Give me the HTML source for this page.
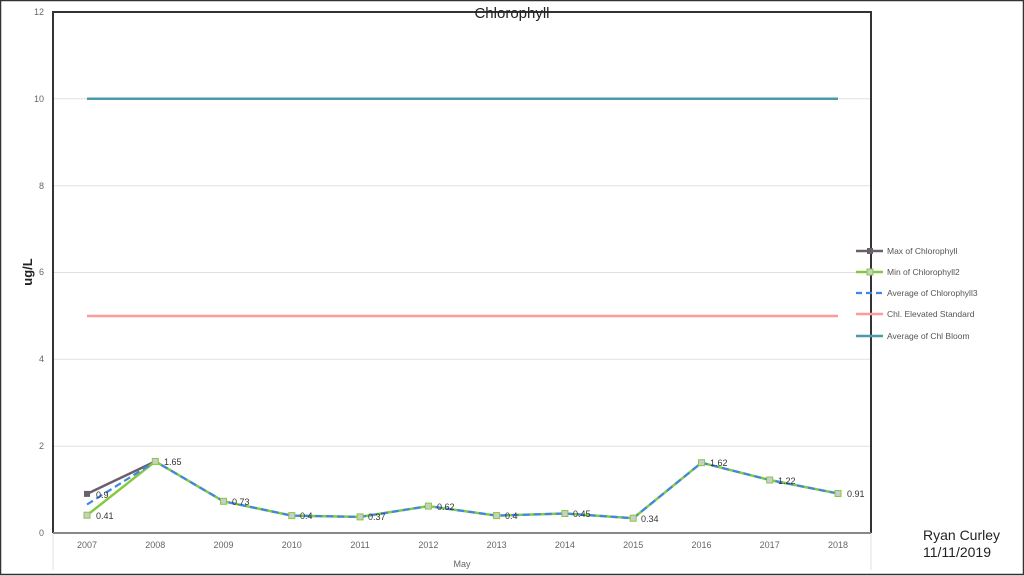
<!DOCTYPE html>
<html><head><meta charset="utf-8"><style>
html,body{margin:0;padding:0;background:#fff}
svg{display:block;font-family:"Liberation Sans",sans-serif}
</style></head><body>
<svg width="1024" height="576" viewBox="0 0 1024 576">
<rect x="0.5" y="0.5" width="1023" height="574" fill="#fff" stroke="#333" stroke-width="1.5"/>
<g stroke="#e0e0e0" stroke-width="1">
<line x1="53" x2="871" y1="446.2" y2="446.2"/>
<line x1="53" x2="871" y1="359.3" y2="359.3"/>
<line x1="53" x2="871" y1="272.5" y2="272.5"/>
<line x1="53" x2="871" y1="185.7" y2="185.7"/>
<line x1="53" x2="871" y1="98.8" y2="98.8"/>
<line x1="53" y1="533" x2="53" y2="570"/>
<line x1="871" y1="533" x2="871" y2="570"/>
</g>
<polyline points="53,533 53,12 871,12 871,533" fill="none" stroke="#333" stroke-width="2"/>
<line x1="53" y1="533" x2="871" y2="533" stroke="#888" stroke-width="2"/>
<g font-size="9" fill="#666" text-anchor="end">
<text x="44" y="536">0</text><text x="44" y="449">2</text><text x="44" y="362">4</text>
<text x="44" y="275">6</text><text x="44" y="189">8</text><text x="44" y="102">10</text><text x="44" y="15">12</text>
</g>
<g font-size="9" fill="#666" text-anchor="middle">
<text x="87" y="548">2007</text><text x="155.3" y="548">2008</text><text x="223.5" y="548">2009</text>
<text x="291.8" y="548">2010</text><text x="360.1" y="548">2011</text><text x="428.4" y="548">2012</text>
<text x="496.6" y="548">2013</text><text x="564.9" y="548">2014</text><text x="633.2" y="548">2015</text>
<text x="701.5" y="548">2016</text><text x="769.7" y="548">2017</text><text x="838" y="548">2018</text>
<text x="462" y="567">May</text>
</g>
<text x="512" y="18" font-size="15" text-anchor="middle" fill="#222">Chlorophyll</text>
<text x="32" y="272" font-size="13" font-weight="bold" text-anchor="middle" transform="rotate(-90 32 272)" fill="#222">ug/L</text>
<line x1="87" y1="98.8" x2="838" y2="98.8" stroke="#4a9aa8" stroke-width="2.5"/>
<line x1="87" y1="316" x2="838" y2="316" stroke="#ff9a9a" stroke-width="2.5"/>
<polyline fill="none" stroke="#6b5f6b" stroke-width="2.5" points="87,493.9 155.3,461.4"/>
<polyline fill="none" stroke="#86c93e" stroke-width="2.5" points="87,515.2 155.3,461.4 223.5,501.3 291.8,515.6 360.1,516.9 428.4,506.1 496.6,515.6 564.9,513.5 633.2,518.2 701.5,462.7 769.7,480 838,493.5"/>
<polyline fill="none" stroke="#3f86e8" stroke-width="2.2" stroke-dasharray="7,4" points="87,504.5 155.3,461.4 223.5,501.3 291.8,515.6 360.1,516.9 428.4,506.1 496.6,515.6 564.9,513.5 633.2,518.2 701.5,462.7 769.7,480 838,493.5"/>
<rect x="84" y="490.9" width="6" height="6" fill="#6b5f6b"/>
<g fill="#ccc" stroke="#86c93e" stroke-width="1">
<rect x="84" y="512.2" width="6" height="6"/><rect x="152.3" y="458.4" width="6" height="6"/>
<rect x="220.5" y="498.3" width="6" height="6"/><rect x="288.8" y="512.6" width="6" height="6"/>
<rect x="357.1" y="513.9" width="6" height="6"/><rect x="425.4" y="503.1" width="6" height="6"/>
<rect x="493.6" y="512.6" width="6" height="6"/><rect x="561.9" y="510.5" width="6" height="6"/>
<rect x="630.2" y="515.2" width="6" height="6"/><rect x="698.5" y="459.7" width="6" height="6"/>
<rect x="766.7" y="477" width="6" height="6"/><rect x="835" y="490.5" width="6" height="6"/>
</g>
<g font-size="9" fill="#333">
<text x="96" y="498">0.9</text><text x="96" y="519">0.41</text><text x="164" y="465">1.65</text>
<text x="232" y="505">0.73</text><text x="300" y="519">0.4</text><text x="368" y="520">0.37</text>
<text x="437" y="510">0.62</text><text x="505" y="519">0.4</text><text x="573" y="517">0.45</text>
<text x="641" y="522">0.34</text><text x="710" y="466">1.62</text><text x="778" y="484">1.22</text>
<text x="847" y="497">0.91</text>
</g>
<g font-size="8.5" fill="#555">
<line x1="856" y1="251" x2="883" y2="251" stroke="#6b5f6b" stroke-width="2.5"/><rect x="867" y="248" width="6" height="6" fill="#6b5f6b"/>
<text x="887" y="254">Max of Chlorophyll</text>
<line x1="856" y1="272" x2="883" y2="272" stroke="#86c93e" stroke-width="2.5"/><rect x="867" y="269" width="6" height="6" fill="#ccc" stroke="#86c93e"/>
<text x="887" y="275">Min of Chlorophyll2</text>
<line x1="856" y1="293" x2="883" y2="293" stroke="#3f86e8" stroke-width="2.2" stroke-dasharray="6,4"/>
<text x="887" y="296">Average of Chlorophyll3</text>
<line x1="856" y1="314" x2="883" y2="314" stroke="#ff9a9a" stroke-width="2.5"/>
<text x="887" y="317">Chl. Elevated Standard</text>
<line x1="856" y1="336" x2="883" y2="336" stroke="#4a9aa8" stroke-width="2.5"/>
<text x="887" y="339">Average of Chl Bloom</text>
</g>
<g font-size="14" fill="#222">
<text x="923" y="540">Ryan Curley</text><text x="923" y="557">11/11/2019</text>
</g>
</svg>
</body></html>
